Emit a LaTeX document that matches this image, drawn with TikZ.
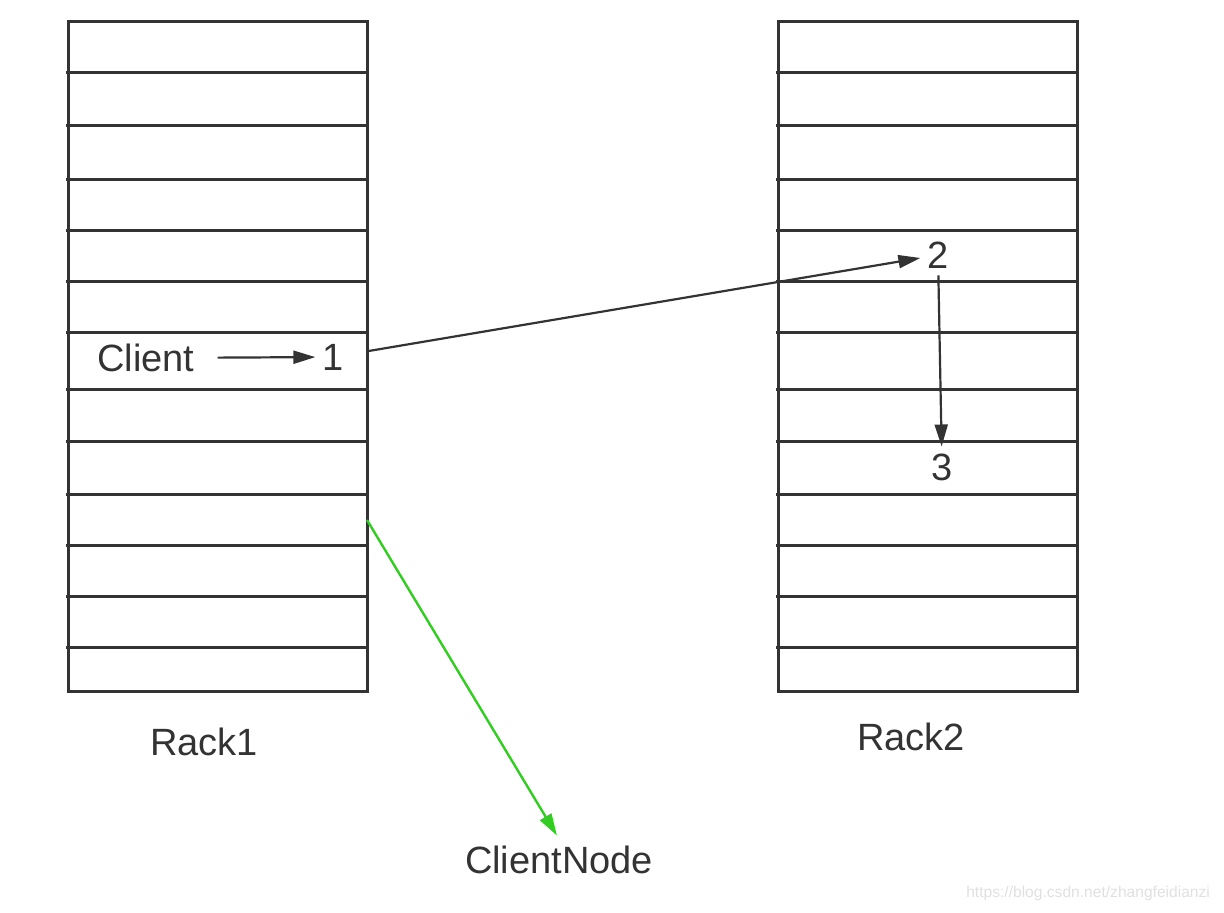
\documentclass[tikz,border=0pt]{standalone}
\usepackage{fontspec}
\setmainfont{Liberation Sans}
\usepackage{tikz}
\usetikzlibrary{arrows.meta}

\definecolor{rackgray}{HTML}{333333}
\definecolor{linkgreen}{HTML}{33CC22}

\begin{document}
\begin{tikzpicture}[x=0.5pt, y=-0.5pt,
    rackline/.style={draw=rackgray, line width=1.5pt},
    link/.style={draw=rackgray, line width=1.1pt,
      -{Triangle[length=11pt, width=6.5pt]}},
    label/.style={text=rackgray, font=\fontsize{19}{22}\selectfont}]
    \useasboundingbox (0, 0) rectangle (1224, 912);

    % rack 1
    \draw [rackline] (68, 21) rectangle (367, 691);
    \foreach \y in {72, 125, 179, 230, 281, 332, 389, 441, 494, 545, 596, 647}
      \draw [rackline] (66, \y) -- (367, \y);
    \node[label](rack1) at (204, 742){Rack1};

    % rack 2
    \draw [rackline] (778, 21) rectangle (1077, 691);
    \foreach \y in {72, 125, 179, 230, 281, 332, 389, 441, 494, 545, 596, 647}
      \draw [rackline] (776, \y) -- (1077, \y);
    \node[label](rack2) at (911, 737){Rack2};

    % client and replicas
    \node[label](client) at (146, 358){Client};
    \node[label](n1) at (333, 357){1};
    \node[label](n2) at (938, 255){2};
    \node[label](n3) at (942, 467){3};
    \draw [link, shorten <=8pt] (client) -- (n1);
    \draw [link, shorten <=8pt] (n1) -- (n2);
    \draw [link] (n2) -- (n3);

    % client node
    \node[label](clientnode) at (559, 860){ClientNode};
    \coordinate (out) at (367, 520);
    \draw [link, draw=linkgreen, line width=1.2pt, shorten >=2pt]
      (out) -- (clientnode.north);

    % watermark
    \node[text=black!12, font=\fontsize{7.8}{9}\selectfont, anchor=east]
      (mark) at (1217, 893){https://blog.csdn.net/zhangfeidianzi};
  \end{tikzpicture}
\end{document}
